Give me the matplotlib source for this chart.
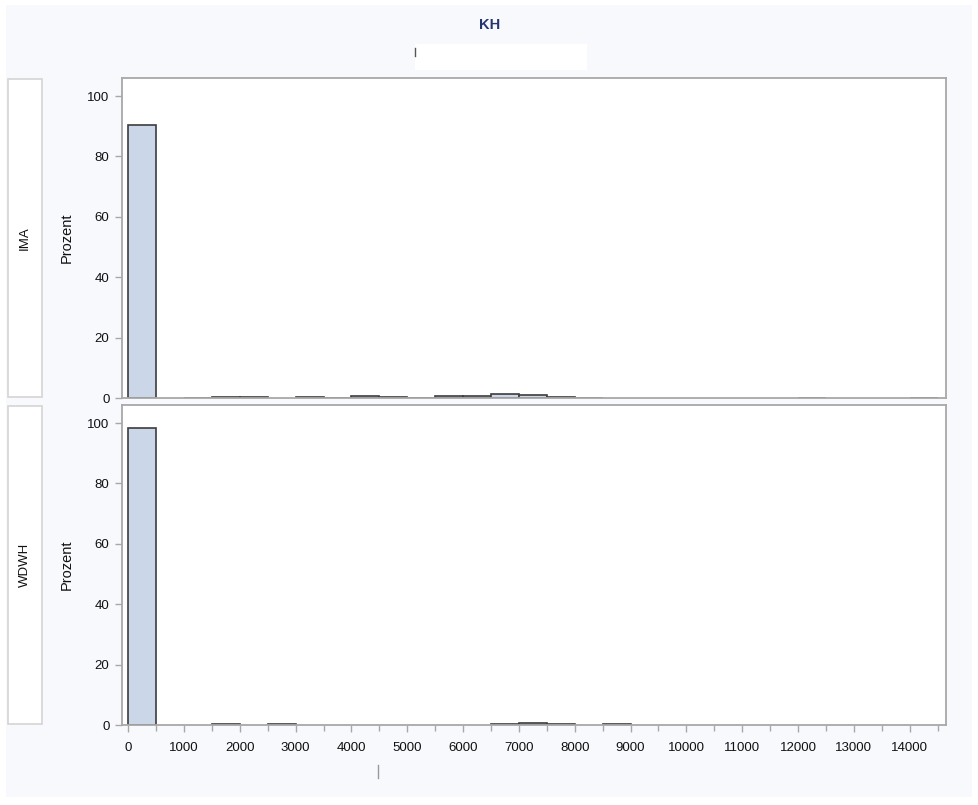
import matplotlib
matplotlib.use("Agg")
import matplotlib.pyplot as plt
import numpy as np
from matplotlib.patches import Rectangle
from matplotlib.lines import Line2D
from matplotlib.ticker import MultipleLocator

plt.rcParams['font.family'] = ['Liberation Sans', 'DejaVu Sans']

# histogram bins (width 500) and percentages per group
bin_starts = np.arange(0, 14500, 500)
bin_width = 500
ima_pct = [90.5, 0, 0.1, 0.4, 0.4, 0, 0.3, 0.05, 0.7, 0.3, 0.05, 0.5, 0.5, 1.4,
           1.0, 0.4, 0.1, 0, 0, 0, 0, 0, 0, 0, 0.1, 0, 0, 0, 0.1]
wdwh_pct = [98.5, 0, 0, 0.3, 0, 0.3, 0, 0, 0, 0, 0, 0, 0, 0.3,
            0.6, 0.3, 0, 0.3, 0, 0, 0, 0, 0, 0, 0, 0, 0, 0, 0]
groups = ['IMA', 'WDWH']
title = 'KH'
ylabel = 'Prozent'
xticks = np.arange(0, 15000, 1000)
yticks = [0, 20, 40, 60, 80, 100]

W, H = 979, 805
fig = plt.figure(figsize=(W / 100, H / 100), dpi=100, facecolor='white')


def fx(px):
    return px / W


def fy(py):
    return 1 - py / H


# light page background
fig.patches.append(Rectangle((fx(6), fy(797)), fx(966), 792 / H, transform=fig.transFigure,
                             facecolor='#f8f9fd', edgecolor='none', zorder=-5))
fig.text(fx(490), fy(25), title, ha='center', va='center', fontsize=10.5,
         fontweight='bold', color='#27356f')
# blank subtitle box
fig.patches.append(Rectangle((fx(415), fy(70)), fx(172), 26 / H, transform=fig.transFigure,
                             facecolor='white', edgecolor='none', zorder=1))
fig.lines.append(Line2D([fx(415), fx(415)], [fy(48), fy(56)], transform=fig.transFigure,
                        color='#555555', lw=1))
fig.lines.append(Line2D([fx(378), fx(378)], [fy(765), fy(778)], transform=fig.transFigure,
                        color='#999999', lw=1))

frame = '#a8a8a8'
txt = '#111111'
panels = [(78, 398), (405, 725)]
data = [ima_pct, wdwh_pct]

for i, (top, bot) in enumerate(panels):
    ax = fig.add_axes([fx(122), fy(bot), fx(824), (bot - top) / H])
    vals = np.array(data[i])
    mask = vals > 0
    ax.bar(bin_starts[mask], vals[mask], width=bin_width, align='edge',
           color='#cbd7e9', edgecolor='#3c3c3c', linewidth=1.2)
    ax.set_xlim(-110, 14650)
    ax.set_ylim(0, 106)
    ax.set_yticks(yticks)
    ax.set_xticks(xticks)
    ax.xaxis.set_minor_locator(MultipleLocator(500))
    for s in ax.spines.values():
        s.set_color(frame)
        s.set_linewidth(1.3)
    ax.tick_params(axis='y', colors=frame, labelcolor=txt, labelsize=9.5,
                   length=5, width=1, pad=4)
    ax.tick_params(axis='x', which='both', colors=frame, labelcolor=txt,
                   labelsize=9.5, length=5, width=1, pad=7)
    ax.tick_params(axis='x', which='minor', length=4)
    if i == 0:
        ax.tick_params(axis='x', which='both', bottom=False, labelbottom=False)
    ax.set_ylabel(ylabel, fontsize=10.5, color=txt, labelpad=10)
    # strip label box on the left
    fig.patches.append(Rectangle((fx(8), fy(bot - 1)), fx(34), (bot - top - 2) / H,
                                 transform=fig.transFigure, facecolor='white',
                                 edgecolor='#d4d4d4', linewidth=1.2, zorder=2))
    fig.text(fx(25), fy((top + bot) / 2), groups[i], rotation=90, ha='center',
             va='center', fontsize=9.5, color=txt, zorder=3)

fig.savefig('out.png', dpi=100, facecolor=fig.get_facecolor())
